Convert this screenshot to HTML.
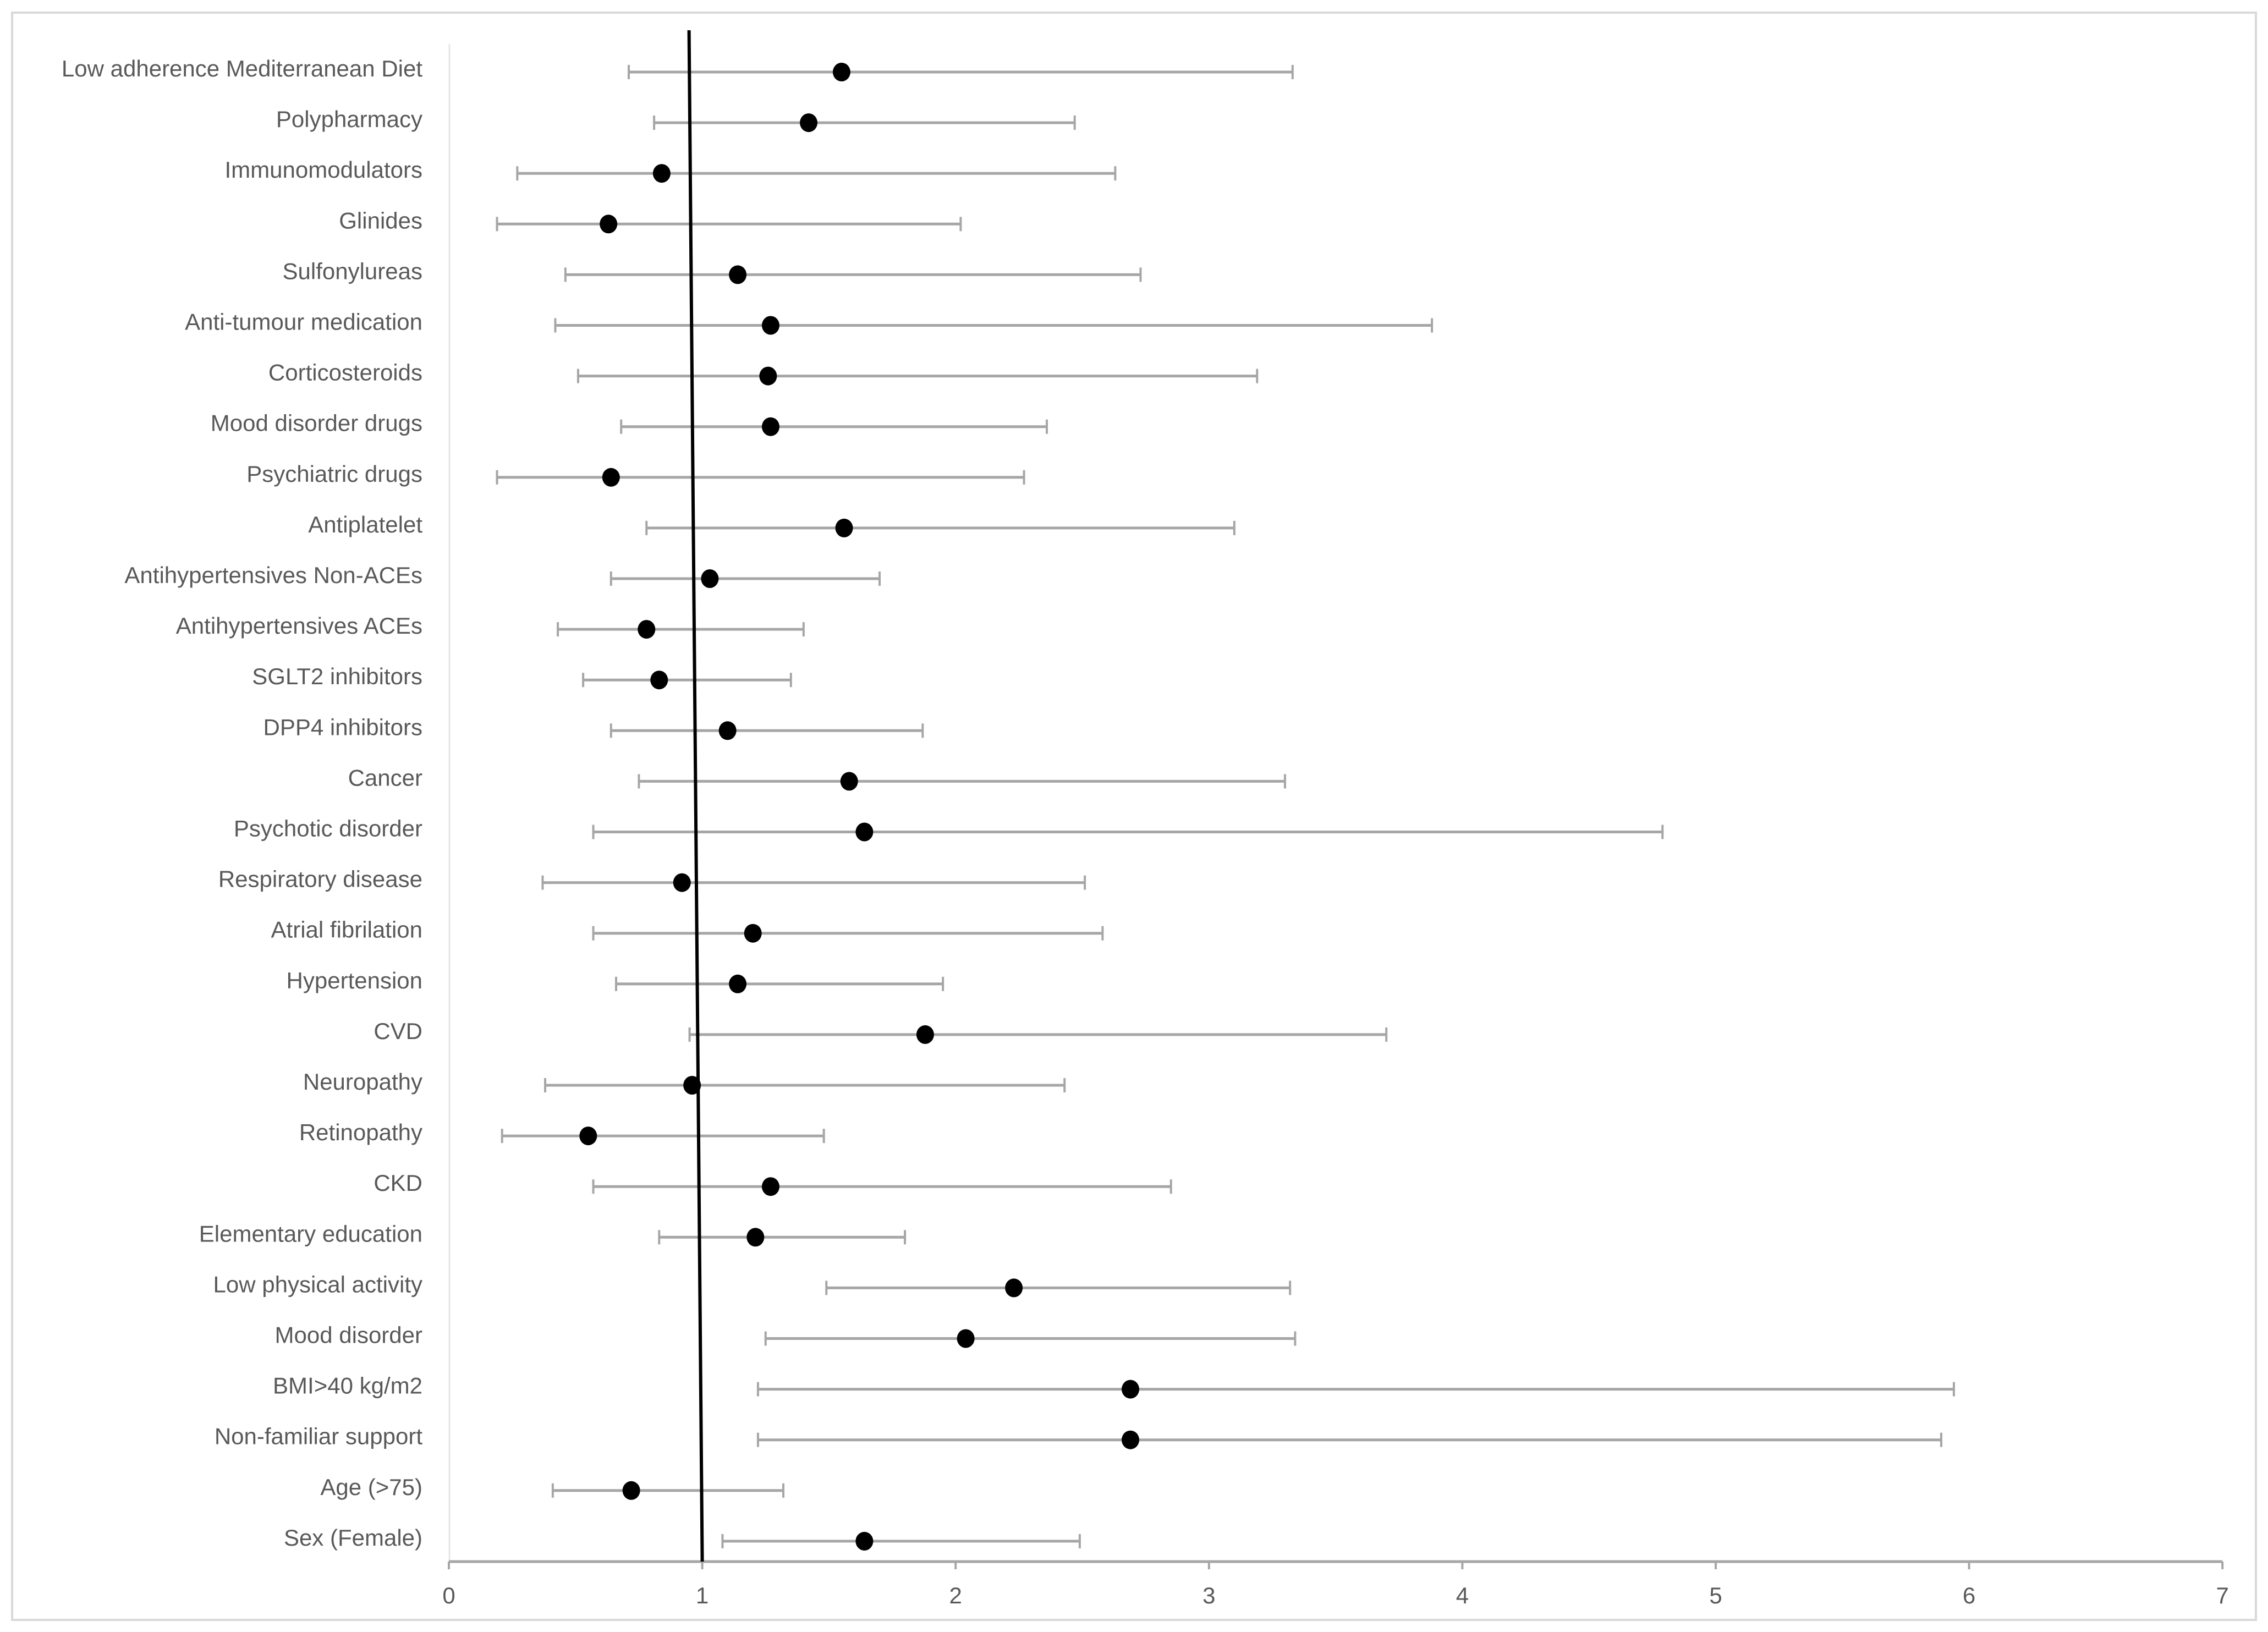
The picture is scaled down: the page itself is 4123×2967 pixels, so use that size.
<!DOCTYPE html>
<html><head><meta charset="utf-8"><style>
html,body{margin:0;padding:0;background:#fff;}
svg{display:block;font-family:"Liberation Sans",sans-serif;}
</style></head><body>
<svg id="chart" width="4123" height="2967" viewBox="0 0 4123 2967" xmlns="http://www.w3.org/2000/svg">
<rect x="22" y="23" width="4079" height="2922" fill="#fff" stroke="#d9d9d9" stroke-width="4"/>
<line x1="817" y1="80" x2="817" y2="2839" stroke="#e6e6e6" stroke-width="3"/>
<g id="marks"></g>
</svg>
<script>
const categories = ["Low adherence Mediterranean Diet","Polypharmacy","Immunomodulators","Glinides","Sulfonylureas","Anti-tumour medication","Corticosteroids","Mood disorder drugs","Psychiatric drugs","Antiplatelet","Antihypertensives Non-ACEs","Antihypertensives ACEs","SGLT2 inhibitors","DPP4 inhibitors","Cancer","Psychotic disorder","Respiratory disease","Atrial fibrilation","Hypertension","CVD","Neuropathy","Retinopathy","CKD","Elementary education","Low physical activity","Mood disorder","BMI>40 kg/m2","Non-familiar support","Age (>75)","Sex (Female)"];
const estimates = [1.55,1.42,0.84,0.63,1.14,1.27,1.26,1.27,0.64,1.56,1.03,0.78,0.83,1.10,1.58,1.64,0.92,1.20,1.14,1.88,0.96,0.55,1.27,1.21,2.23,2.04,2.69,2.69,0.72,1.64];
const lowerCI = [0.71,0.81,0.27,0.19,0.46,0.42,0.51,0.68,0.19,0.78,0.64,0.43,0.53,0.64,0.75,0.57,0.37,0.57,0.66,0.95,0.38,0.21,0.57,0.83,1.49,1.25,1.22,1.22,0.41,1.08];
const upperCI = [3.33,2.47,2.63,2.02,2.73,3.88,3.19,2.36,2.27,3.10,1.70,1.40,1.35,1.87,3.30,4.79,2.51,2.58,1.95,3.70,2.43,1.48,2.85,1.80,3.32,3.34,5.94,5.89,1.32,2.49];
const xTicks = [0,1,2,3,4,5,6,7];
const refValue = 1;

const NS = "http://www.w3.org/2000/svg";
const g = document.getElementById("marks");
const X0 = 816, XU = 460.6, AXIS_Y = 2839;
function xScale(v){ return X0 + v*XU; }
function rowY(i){ return 124 + i*92.1; }
function mk(tag, attrs, parent){
  const e = document.createElementNS(NS, tag);
  for (const k in attrs) e.setAttribute(k, attrs[k]);
  (parent||g).appendChild(e);
  return e;
}
categories.forEach((c,i)=>{
  const ly = rowY(i), my = ly + 7;
  const t = mk("text",{x:768,y:ly+15,"text-anchor":"end","font-size":42,fill:"#595959"});
  
  
  t.textContent = c;
  const w = mk("line",{x1:xScale(lowerCI[i]),y1:my,x2:xScale(upperCI[i]),y2:my,stroke:"#a6a6a6","stroke-width":5});
  
  
  [lowerCI[i],upperCI[i]].forEach(v=>{
    const cap = mk("line",{x1:xScale(v),y1:my-13,x2:xScale(v),y2:my+13,stroke:"#a6a6a6","stroke-width":4});
    
    
  });
});
// axis
const ax = mk("line",{x1:xScale(0),y1:AXIS_Y,x2:xScale(7),y2:AXIS_Y,stroke:"#a6a6a6","stroke-width":5});


xTicks.forEach(v=>{
  const tk = mk("line",{x1:xScale(v),y1:AXIS_Y,x2:xScale(v),y2:AXIS_Y+14,stroke:"#a6a6a6","stroke-width":4});
  
  
  const tl = mk("text",{x:xScale(v),y:AXIS_Y+76,"text-anchor":"middle","font-size":42,fill:"#595959"});
  
  
  tl.textContent = v;
});
// reference line (slightly slanted as in reference)
const rl = mk("line",{x1:xScale(refValue)-24,y1:55,x2:xScale(refValue),y2:AXIS_Y,stroke:"#000","stroke-width":6});


categories.forEach((c,i)=>{
  const d = mk("ellipse",{cx:xScale(estimates[i]),cy:rowY(i)+7,rx:16,ry:17,fill:"#000"});
  
  
});
</script>
</body></html>
